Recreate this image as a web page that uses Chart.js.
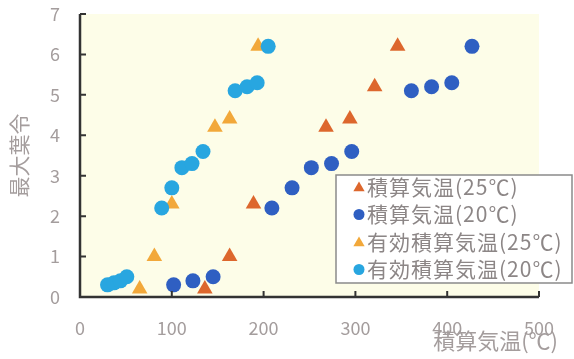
<!DOCTYPE html>
<html>
<head>
<meta charset="utf-8">
<script src="https://cdn.jsdelivr.net/npm/chart.js@4/dist/chart.umd.min.js"></script>
<style>
  html, body { margin: 0; padding: 0; background: #ffffff; }
  #wrap { width: 574px; height: 359px; position: relative; }
</style>
</head>
<body>
<div id="wrap"><canvas id="c" width="574" height="359"></canvas></div>
<script>
// Series labels (legend order)
const seriesLabels = ['積算気温(25℃)', '積算気温(20℃)', '有効積算気温(25℃)', '有効積算気温(20℃)'];

// 積算気温(25℃)
const accum25X = [136, 163, 189, 268, 294, 321, 346];
const accum25Y = [0.2, 1.0, 2.3, 4.2, 4.4, 5.2, 6.2];

// 積算気温(20℃)
const accum20X = [102, 123, 145, 209, 231, 252, 274, 296, 361, 383, 405, 427];
const accum20Y = [0.3, 0.4, 0.5, 2.2, 2.7, 3.2, 3.3, 3.6, 5.1, 5.2, 5.3, 6.2];

// 有効積算気温(25℃)
const effective25X = [65, 81, 100, 147, 163, 194];
const effective25Y = [0.2, 1.0, 2.3, 4.2, 4.4, 6.2];

// 有効積算気温(20℃)
const effective20X = [30, 37, 44, 51, 89, 100, 111, 122, 134, 169, 182, 193, 205];
const effective20Y = [0.3, 0.35, 0.4, 0.5, 2.2, 2.7, 3.2, 3.3, 3.6, 5.1, 5.2, 5.3, 6.2];

// Axis ticks
const xTicks = [0, 100, 200, 300, 400, 500];
const yTicks = [0, 1, 2, 3, 4, 5, 6, 7];

const xTitle = '積算気温(℃)';
const yTitle = '最大葉令';

function pairs(xs, ys) {
  return xs.map((x, i) => ({ x: x, y: ys[i] }));
}

const labelGray = '#a49d9d';
const axisColor = '#333333';
const fontFamily = '"Noto Sans CJK JP", "Noto Sans", sans-serif';

const styles = [
  { color: '#dd672d', pointStyle: 'triangle', radius: 9 },
  { color: '#2f5fc2', pointStyle: 'circle', radius: 7.5 },
  { color: '#f2a83a', pointStyle: 'triangle', radius: 9 },
  { color: '#28a6e0', pointStyle: 'circle', radius: 7.5 }
];

const seriesData = [
  pairs(accum25X, accum25Y),
  pairs(accum20X, accum20Y),
  pairs(effective25X, effective25Y),
  pairs(effective20X, effective20Y)
];

const datasets = seriesData.map((d, i) => ({
  label: seriesLabels[i],
  data: d,
  pointStyle: styles[i].pointStyle,
  pointRadius: styles[i].radius,
  pointHoverRadius: styles[i].radius,
  backgroundColor: styles[i].color,
  borderColor: styles[i].color,
  borderWidth: 0,
  // later series are painted over earlier ones
  order: seriesLabels.length - i
}));

// Light plot-area fill
const plotBackground = {
  id: 'plotBackground',
  beforeDraw(chart) {
    const { ctx, chartArea: a } = chart;
    ctx.save();
    ctx.fillStyle = '#fdfde8';
    ctx.fillRect(a.left, a.top, a.right - a.left, a.bottom - a.top);
    ctx.restore();
  }
};

// Axis lines with inward tick marks
const axesFrame = {
  id: 'axesFrame',
  afterDatasetsDraw(chart) {
    const { ctx, chartArea: a } = chart;
    const xs = chart.scales.x, ys = chart.scales.y;
    ctx.save();
    ctx.strokeStyle = axisColor;
    ctx.lineWidth = 2.5;
    ctx.lineCap = 'butt';
    ctx.beginPath();
    ctx.moveTo(a.left, a.top);
    ctx.lineTo(a.left, a.bottom);
    ctx.lineTo(a.right, a.bottom);
    ctx.stroke();
    ctx.lineWidth = 2;
    ctx.beginPath();
    xs.ticks.forEach((t, i) => {
      const px = xs.getPixelForTick(i);
      ctx.moveTo(px, a.bottom);
      ctx.lineTo(px, a.bottom - 6);
    });
    ys.ticks.forEach((t, i) => {
      const py = ys.getPixelForTick(i);
      ctx.moveTo(a.left, py);
      ctx.lineTo(a.left + 6, py);
    });
    ctx.stroke();
    ctx.restore();
  }
};

// Legend box drawn over the lower right corner
const boxLegend = {
  id: 'boxLegend',
  afterDraw(chart) {
    const { ctx } = chart;
    const left = 336, top = 175, width = 236, height = 108;
    ctx.save();
    ctx.fillStyle = '#ffffff';
    ctx.fillRect(left, top, width, height);
    ctx.strokeStyle = '#8a8a8a';
    ctx.lineWidth = 1.5;
    ctx.strokeRect(left, top, width, height);
    ctx.font = '21px ' + fontFamily;
    if ('letterSpacing' in ctx) ctx.letterSpacing = '1px';
    ctx.textBaseline = 'middle';
    ctx.textAlign = 'left';
    chart.data.datasets.forEach((ds, i) => {
      const cy = top + 12 + i * 27.5;
      const isTri = ds.pointStyle === 'triangle';
      ctx.fillStyle = ds.backgroundColor;
      ctx.beginPath();
      if (isTri) {
        const r = 6.5;
        ctx.moveTo(359, cy + 1 - r);
        ctx.lineTo(359 + r * Math.sin(Math.PI / 3), cy + 1 + r / 2);
        ctx.lineTo(359 - r * Math.sin(Math.PI / 3), cy + 1 + r / 2);
      } else {
        ctx.arc(359, cy, 5.5, 0, Math.PI * 2);
      }
      ctx.closePath();
      ctx.fill();
      ctx.fillStyle = '#8c8686';
      ctx.fillText(ds.label, 367, cy);
    });
    ctx.restore();
  }
};

// X-axis title at the bottom right
const xAxisTitle = {
  id: 'xAxisTitle',
  afterDraw(chart) {
    const { ctx, chartArea: a } = chart;
    ctx.save();
    ctx.font = '22px ' + fontFamily;
    ctx.fillStyle = labelGray;
    ctx.textAlign = 'right';
    ctx.textBaseline = 'middle';
    ctx.fillText(xTitle, a.right + 19, a.bottom + 44);
    ctx.restore();
  }
};

new Chart(document.getElementById('c'), {
  type: 'scatter',
  data: { datasets: datasets },
  options: {
    responsive: false,
    animation: false,
    devicePixelRatio: 1,
    layout: { padding: { left: 6, right: 35, top: 14, bottom: 0 } },
    plugins: {
      legend: { display: false },
      tooltip: { enabled: false }
    },
    scales: {
      x: {
        type: 'linear',
        min: 0,
        max: 500,
        afterBuildTicks(scale) { scale.ticks = xTicks.map(v => ({ value: v })); },
        afterFit(scale) {
          scale.height = 62;
          scale.paddingLeft = 0;
          scale.paddingRight = 0;
        },
        grid: { display: false, drawTicks: false },
        border: { display: false },
        ticks: {
          padding: 20,
          color: labelGray,
          font: { family: fontFamily, size: 18 },
          maxRotation: 0,
          autoSkip: false
        }
      },
      y: {
        type: 'linear',
        min: 0,
        max: 7,
        afterBuildTicks(scale) { scale.ticks = yTicks.map(v => ({ value: v })); },
        afterFit(scale) {
          scale.width = 74;
          scale.paddingTop = 0;
          scale.paddingBottom = 0;
        },
        grid: { display: false, drawTicks: false },
        border: { display: false },
        title: {
          display: true,
          text: yTitle,
          color: labelGray,
          font: { family: fontFamily, size: 21 },
          padding: { top: 0, bottom: 0 }
        },
        ticks: {
          padding: 20,
          color: labelGray,
          font: { family: fontFamily, size: 18 },
          autoSkip: false
        }
      }
    }
  },
  plugins: [plotBackground, axesFrame, boxLegend, xAxisTitle]
});
</script>
</body>
</html>
